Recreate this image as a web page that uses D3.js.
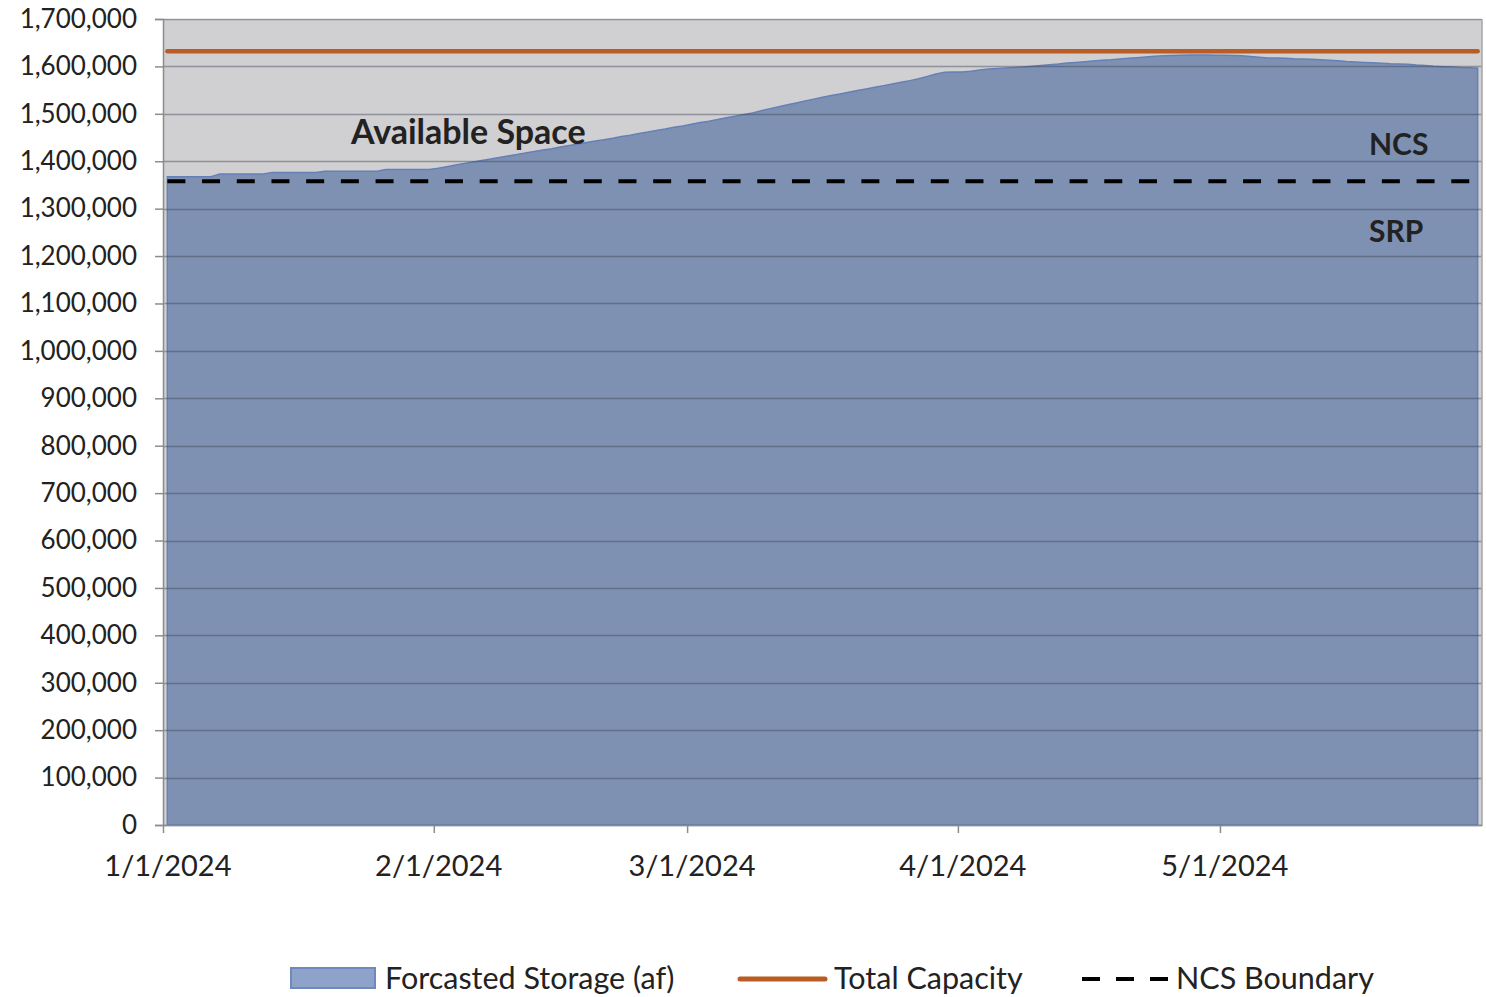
<!DOCTYPE html>
<html>
<head>
<meta charset="utf-8">
<script src="https://d3js.org/d3.v7.min.js"></script>
<style>
  body { margin: 0; background: #fff; }
  text { font-family: Lato, "Open Sans", sans-serif; fill: #222; }
</style>
</head>
<body>
<svg id="chart" width="1486" height="997"></svg>
<script>
// daily forecasted storage (af)
var janStorage = [1367500, 1367500, 1367500, 1367500, 1367500, 1367500,
  1373000, 1373000, 1373000, 1373000, 1373000, 1373000,
  1376500, 1376500, 1376500, 1376500, 1376500, 1376500,
  1379000, 1379000, 1379000, 1379000, 1379000, 1379000, 1379000,
  1382500, 1382500, 1382500, 1382500, 1382500, 1382500];
var febStorage = [1385000, 1388500, 1392000, 1395000, 1398500, 1401500, 1404500, 1408000,
  1411000, 1414000, 1417500, 1420500, 1423500, 1426500, 1430000, 1433000, 1436000,
  1439500, 1442500, 1445500, 1448500, 1452000, 1455000, 1458500, 1461500, 1465000,
  1468000, 1471500, 1474500];
var marStorage = [1478000, 1481500, 1484500, 1488000, 1491500, 1495000, 1498500, 1502000,
  1506500, 1511000, 1515000, 1519000, 1523000, 1527000, 1531000, 1535000, 1538500,
  1542000, 1545500, 1549000, 1552500, 1556000, 1559500, 1563000, 1566500, 1570000,
  1574000, 1579000, 1584000, 1587500, 1588000];
var aprStorage = [1588000, 1590000, 1592500, 1594500, 1595500, 1596500, 1597500, 1599000,
  1600500, 1602000, 1603500, 1605000, 1607000, 1608500, 1610000, 1611500, 1613000,
  1614000, 1615500, 1617000, 1618500, 1620000, 1621500, 1622500, 1623000, 1623500,
  1624000, 1624000, 1624000, 1623500];
var mayStorage = [1623500, 1623000, 1622500, 1621000, 1619500, 1618000, 1617500, 1617000,
  1616000, 1615500, 1615000, 1614000, 1613000, 1612000, 1610500, 1609500, 1608500,
  1607500, 1606500, 1605500, 1605000, 1604500, 1603000, 1602000, 1600500, 1599500,
  1598500, 1597500, 1597000, 1596000];

var totalCapacity = 1632000;
var ncsBoundary = 1358000;

var xTickLabels = ["1/1/2024", "2/1/2024", "3/1/2024", "4/1/2024", "5/1/2024"];
var legendLabels = ["Forcasted Storage (af)", "Total Capacity", "NCS Boundary"];

var svg = d3.select("#chart");

var plotLeft = 163, plotRight = 1482, plotTop = 19, plotBottom = 825;

var startDate = new Date(Date.UTC(2024, 0, 1));
var endDate = new Date(Date.UTC(2024, 4, 31));

var storage = janStorage.concat(febStorage, marStorage, aprStorage, mayStorage);
var data = storage.map(function (v, i) {
  return { date: d3.utcDay.offset(startDate, i), value: v };
});

var x = d3.scaleUtc().domain([startDate, endDate]).range([plotLeft, plotRight]);
var y = d3.scaleLinear().domain([0, 1700000]).range([plotBottom, plotTop]);

// points sit in the middle of each day
var halfDay = (x(d3.utcDay.offset(startDate, 1)) - x(startDate)) / 2;
function px(d) { return x(d.date) + halfDay; }

// plot background
svg.append("rect")
  .attr("x", plotLeft).attr("y", plotTop)
  .attr("width", plotRight - plotLeft).attr("height", plotBottom - plotTop)
  .attr("fill", "#d0cfd1");

// forecasted storage area
var area = d3.area()
  .x(px)
  .y0(y(0))
  .y1(function (d) { return y(d.value); });

svg.append("path")
  .datum(data)
  .attr("d", area)
  .attr("fill", "#7f91b3")
  .attr("stroke", "#6480b6")
  .attr("stroke-width", 1.5);

// gridlines
svg.append("g")
  .selectAll("line")
  .data(y.ticks(17))
  .enter().append("line")
  .attr("x1", plotLeft).attr("x2", plotRight)
  .attr("y1", function (d) { return Math.round(y(d)) + 0.5; })
  .attr("y2", function (d) { return Math.round(y(d)) + 0.5; })
  .attr("stroke", "rgba(55,62,80,0.42)")
  .attr("stroke-width", 1.5);

// right border
svg.append("line")
  .attr("x1", plotRight).attr("x2", plotRight)
  .attr("y1", plotTop).attr("y2", plotBottom)
  .attr("stroke", "#a6a6a6").attr("stroke-width", 1.5);

// total capacity
var first = data[0], last = data[data.length - 1];
svg.append("line")
  .attr("x1", px(first)).attr("x2", px(last))
  .attr("y1", y(totalCapacity)).attr("y2", y(totalCapacity))
  .attr("stroke", "#ba5d24")
  .attr("stroke-width", 4.5)
  .attr("stroke-linecap", "round");

// NCS boundary
svg.append("line")
  .attr("x1", px(first)).attr("x2", px(last))
  .attr("y1", y(ncsBoundary)).attr("y2", y(ncsBoundary))
  .attr("stroke", "#000")
  .attr("stroke-width", 4)
  .attr("stroke-dasharray", "18,16.7");

// y axis
var yAxis = svg.append("g")
  .attr("transform", "translate(" + plotLeft + ",0)")
  .call(d3.axisLeft(y).ticks(17).tickSize(8).tickPadding(18).tickFormat(d3.format(",")));
yAxis.select(".domain").attr("stroke", "#8c8c8c").attr("stroke-width", 1.5);
yAxis.selectAll(".tick line").attr("stroke", "#8c8c8c").attr("stroke-width", 1.5);
yAxis.selectAll(".tick text")
  .style("font-size", "26px")
  .style("font-family", "Lato, sans-serif")
  .attr("fill", "#222");

// x axis
var monthTicks = d3.utcMonth.range(startDate, endDate);
var xAxis = svg.append("g")
  .attr("transform", "translate(0," + plotBottom + ")")
  .call(d3.axisBottom(x).tickValues(monthTicks).tickSize(8).tickSizeOuter(0)
    .tickFormat(function (d, i) { return xTickLabels[i]; }));
xAxis.select(".domain").attr("stroke", "#8c8c8c").attr("stroke-width", 1.5);
xAxis.selectAll(".tick line").attr("stroke", "#8c8c8c").attr("stroke-width", 1.5);
xAxis.selectAll(".tick text")
  .attr("x", halfDay)
  .attr("y", 30)
  .style("font-size", "29px")
  .style("font-family", "Lato, sans-serif")
  .attr("fill", "#222");

// region labels
svg.append("text").attr("x", 351).attr("y", 144)
  .style("font-size", "34px").style("font-weight", "bold")
  .text("Available Space");
svg.append("text").attr("x", 1369).attr("y", 155)
  .style("font-size", "30px").style("font-weight", "bold")
  .text("NCS");
svg.append("text").attr("x", 1369).attr("y", 242)
  .style("font-size", "30px").style("font-weight", "bold")
  .text("SRP");

// legend
var legend = svg.append("g");
legend.append("rect")
  .attr("x", 291).attr("y", 968).attr("width", 84).attr("height", 20)
  .attr("fill", "#8fa2c9").attr("stroke", "#6e89bb").attr("stroke-width", 2);
legend.append("text").attr("x", 385).attr("y", 989)
  .style("font-size", "30.5px").text(legendLabels[0]);

legend.append("line")
  .attr("x1", 740).attr("x2", 825).attr("y1", 979).attr("y2", 979)
  .attr("stroke", "#ba5d24").attr("stroke-width", 5).attr("stroke-linecap", "round");
legend.append("text").attr("x", 834).attr("y", 989)
  .style("font-size", "30.5px").text(legendLabels[1]);

legend.append("line")
  .attr("x1", 1082).attr("x2", 1168).attr("y1", 979).attr("y2", 979)
  .attr("stroke", "#000").attr("stroke-width", 4)
  .attr("stroke-dasharray", "18,16");
legend.append("text").attr("x", 1176).attr("y", 989)
  .style("font-size", "30.5px").text(legendLabels[2]);
</script>
</body>
</html>
